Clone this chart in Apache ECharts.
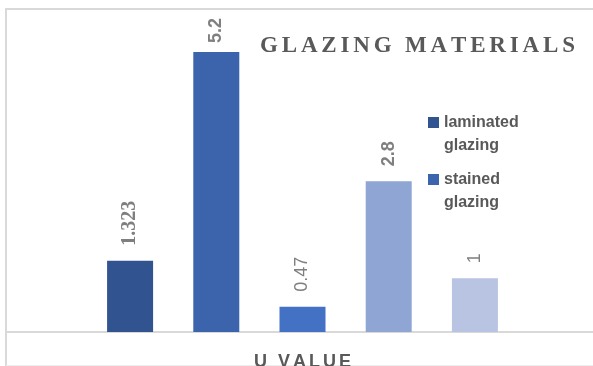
<!DOCTYPE html>
<html>
<head>
<meta charset="utf-8">
<script src="https://cdn.jsdelivr.net/npm/echarts@6/dist/echarts.min.js"></script>
<style>
html, body { margin: 0; padding: 0; background: #ffffff; }
#chart { width: 593px; height: 366px; }
</style>
</head>
<body>
<div id="chart"></div>
<script>
// ---- data ----
const categories = ['U VALUE'];
const seriesNames = ['laminated glazing', 'stained glazing', 'glazing 3', 'glazing 4', 'glazing 5'];
const uValues = [1.323, 5.2, 0.47, 2.8, 1];
const legendEntries = ['laminated glazing', 'stained glazing'];
const titleText = 'GLAZING MATERIALS';
const yMin = 0;
const yMax = 6;

// ---- styling ----
const palette = ['#31538F', '#3C64AC', '#4371C4', '#8FA5D4', '#B9C4E2'];
const labelStyles = [
  { fontFamily: 'Liberation Serif', fontWeight: 'bold', fontSize: 20, distance: 15 },
  { fontFamily: 'Liberation Sans', fontWeight: 'bold', fontSize: 18, distance: 9 },
  { fontFamily: 'Liberation Sans', fontWeight: 'normal', fontSize: 18, distance: 15 },
  { fontFamily: 'Liberation Sans', fontWeight: 'bold', fontSize: 18, distance: 15 },
  { fontFamily: 'Liberation Sans', fontWeight: 'normal', fontSize: 18, distance: 15 }
];
const borderColor = '#d9d9d9';
const textGray = '#595959';

// widen text by putting six-per-em spaces between the letters
const spaced = s => s.split('').join('\u2006');

const series = seriesNames.map((name, i) => ({
  name: name,
  type: 'bar',
  data: [uValues[i]],
  barWidth: 46,
  barGap: '87.4%',
  itemStyle: { color: palette[i] },
  label: {
    show: true,
    position: 'top',
    rotate: 90,
    align: 'left',
    verticalAlign: 'middle',
    distance: labelStyles[i].distance,
    color: '#7f7f7f',
    fontFamily: labelStyles[i].fontFamily,
    fontWeight: labelStyles[i].fontWeight,
    fontSize: labelStyles[i].fontSize,
    formatter: p => String(p.value)
  }
}));

const chart = echarts.init(document.getElementById('chart'), null, { renderer: 'canvas' });
chart.setOption({
  animation: false,
  backgroundColor: '#ffffff',
  title: {
    text: spaced(titleText),
    left: 260,
    top: 35,
    padding: 0,
    textStyle: {
      fontFamily: 'Liberation Serif',
      fontWeight: 'bold',
      fontSize: 23,
      color: textGray
    }
  },
  legend: {
    data: legendEntries,
    orient: 'vertical',
    left: 428,
    top: 111,
    padding: 0,
    itemWidth: 11,
    itemHeight: 46,
    itemGap: 11,
    // square sits level with the first text line
    icon: 'path://M0 0h0.01v0.01H0z M0 6h11v11H0z M0 46h0.01v0.01H0z',
    textStyle: {
      fontFamily: 'Liberation Sans',
      fontWeight: 'bold',
      fontSize: 16,
      lineHeight: 23,
      color: textGray
    },
    formatter: name => name.replace(' ', '\n'),
    selectedMode: false
  },
  grid: { left: 6, top: 9, width: 593, height: 323, containLabel: false, outerBoundsMode: 'none' },
  xAxis: {
    type: 'category',
    data: categories,
    axisLine: { show: true, lineStyle: { color: borderColor, width: 2 } },
    axisTick: { show: false },
    splitLine: { show: false },
    axisLabel: {
      margin: 21,
      fontFamily: 'Liberation Sans',
      fontWeight: 'bold',
      fontSize: 18,
      color: textGray,
      formatter: v => spaced(v)
    }
  },
  yAxis: {
    type: 'value',
    min: yMin,
    max: yMax,
    show: false,
    splitLine: { show: false }
  },
  graphic: [
    { type: 'line', shape: { x1: 5, y1: 9, x2: 593, y2: 9 }, style: { stroke: borderColor, lineWidth: 2 }, silent: true },
    { type: 'line', shape: { x1: 6, y1: 8, x2: 6, y2: 366 }, style: { stroke: borderColor, lineWidth: 2 }, silent: true },
    { type: 'line', shape: { x1: 6, y1: 365.5, x2: 593, y2: 365.5 }, style: { stroke: '#ededed', lineWidth: 1 }, silent: true }
  ],
  series: series
});
</script>
</body>
</html>
